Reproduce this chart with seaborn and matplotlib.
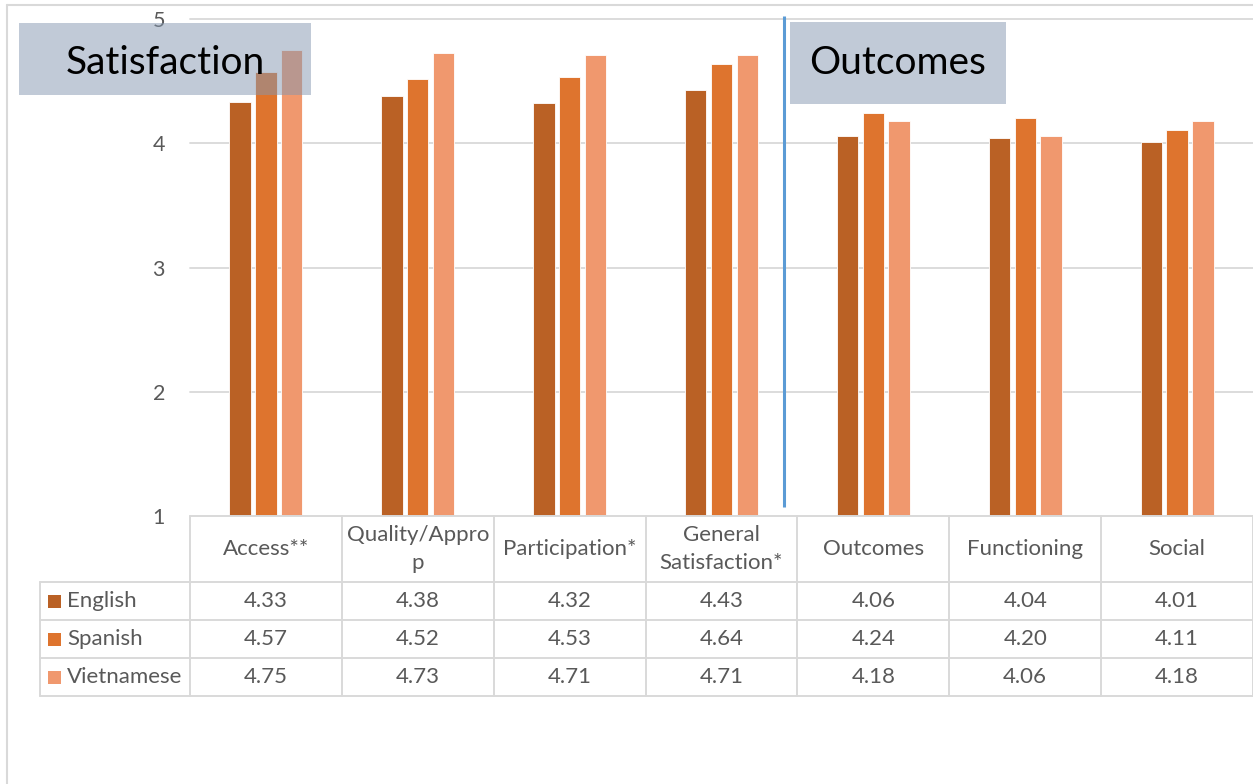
import matplotlib
matplotlib.use("Agg")
import matplotlib.pyplot as plt
import numpy as np
import pandas as pd
import seaborn as sns
from matplotlib.patches import Rectangle
from matplotlib.transforms import blended_transform_factory

# Survey domains and mean scores by survey language
categories = ["Access**", "Quality/Appro\np", "Participation*", "General\nSatisfaction*",
              "Outcomes", "Functioning", "Social"]
languages = ["English", "Spanish", "Vietnamese"]
english = [4.33, 4.38, 4.32, 4.43, 4.06, 4.04, 4.01]
spanish = [4.57, 4.52, 4.53, 4.64, 4.24, 4.20, 4.11]
vietnamese = [4.75, 4.73, 4.71, 4.71, 4.18, 4.06, 4.18]
y_ticks = [1, 2, 3, 4, 5]
section_titles = ["Satisfaction", "Outcomes"]

colors = ["#BA6125", "#DE742E", "#F0986E"]
grid_color = "#D9D9D9"
text_color = "#595959"
table_fs = 16

scores = {"English": english, "Spanish": spanish, "Vietnamese": vietnamese}
df = pd.DataFrame(
    [(cat, lang, scores[lang][i]) for lang in languages for i, cat in enumerate(categories)],
    columns=["domain", "language", "score"],
)

W, H = 1253, 784
sns.set_theme(style="white")
plt.rcParams["font.family"] = ["Lato", "DejaVu Sans"]

fig = plt.figure(figsize=(W / 100, H / 100), dpi=100)
ax = fig.add_axes([190 / W, 1 - 516 / H, 1 - 190 / W, (516 - 19) / H])

sns.barplot(data=df, x="domain", y="score", hue="language", order=categories,
            hue_order=languages, palette=colors, saturation=1, width=0.51, gap=0.17,
            edgecolor="white", linewidth=0.6, legend=False, ax=ax, zorder=2)

ax.set_ylim(1, 5)
ax.set_xlim(-0.5, len(categories) - 0.5)
ax.set_yticks(y_ticks)
ax.set_yticklabels([str(t) for t in y_ticks], fontsize=15.5, color=text_color)
ax.tick_params(axis="y", length=0, pad=18)
ax.set_xticks([])
ax.set_xlabel("")
ax.set_ylabel("")
for s in ax.spines.values():
    s.set_visible(False)
for t in y_ticks[1:]:
    ax.axhline(t, color=grid_color, lw=1.3, zorder=1, clip_on=False)

# divider between the satisfaction and outcome domains
divider_x = 3.41
ax.plot([divider_x, divider_x], [5.025, 1.07], color="#5B9BD5", lw=2.2,
        clip_on=False, zorder=3, solid_capstyle="butt")

# overlay in pixel units for the frame, data table and section boxes
ov = fig.add_axes([0, 0, 1, 1], zorder=5)
ov.set_xlim(0, W)
ov.set_ylim(H, 0)
ov.axis("off")

# outer chart frame
ov.plot([7, W], [5, 5], color=grid_color, lw=1.5)
ov.plot([7, 7], [5, H], color=grid_color, lw=1.5)

# data table under the bars
tr = blended_transform_factory(ax.transData, ov.transData)
n = len(categories)
row_edges = [516, 582, 620, 658, 696]
left_px = 40
lw_tab = 1.4
ov.plot([-0.5, n - 0.5], [row_edges[0]] * 2, color=grid_color, lw=lw_tab, transform=tr)
for y in row_edges[1:]:
    ov.plot([left_px, W], [y, y], color=grid_color, lw=lw_tab)
ov.plot([left_px, left_px], [row_edges[1], row_edges[-1]], color=grid_color, lw=lw_tab)
for i in range(n + 1):
    ov.plot([i - 0.5, i - 0.5], [row_edges[0], row_edges[-1]], color=grid_color,
            lw=lw_tab, transform=tr)

header_mid = (row_edges[0] + row_edges[1]) / 2
for i, cat in enumerate(categories):
    ov.text(i, header_mid, cat, transform=tr, ha="center", va="center",
            fontsize=table_fs, color=text_color, linespacing=1.45)

for r, lang in enumerate(languages):
    y_mid = (row_edges[r + 1] + row_edges[r + 2]) / 2
    ov.add_patch(Rectangle((48, y_mid - 6.5), 13, 13, color=colors[r], lw=0))
    ov.text(67, y_mid, lang, ha="left", va="center", fontsize=table_fs, color=text_color)
    for i, v in enumerate(scores[lang]):
        ov.text(i, y_mid, f"{v:.2f}", transform=tr, ha="center", va="center",
                fontsize=table_fs, color=text_color)

# section title boxes
boxes = [(19, 23, 292, 72), (790, 22, 216, 82)]
for (bx, by, bw, bh), title in zip(boxes, section_titles):
    ov.add_patch(Rectangle((bx, by), bw, bh, facecolor="#8497B0", alpha=0.5, lw=0))
    ov.text(bx + bw / 2, 74, title, ha="center", va="baseline", fontsize=28, color="black")

fig.savefig("out.png", dpi=100)
